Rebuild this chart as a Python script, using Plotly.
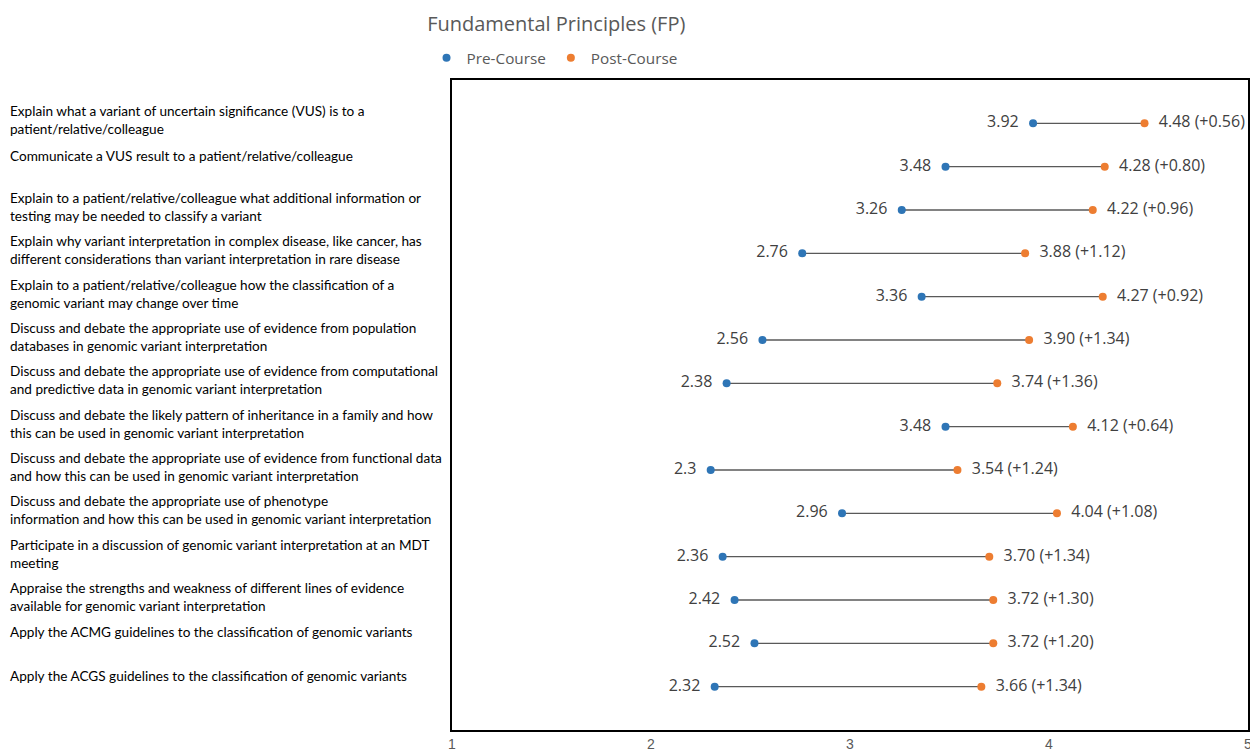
import plotly.graph_objects as go

categories = [
    "Explain what a variant of uncertain significance (VUS) is to a<br>patient/relative/colleague",
    "Communicate a VUS result to a patient/relative/colleague",
    "Explain to a patient/relative/colleague what additional information or<br>testing may be needed to classify a variant",
    "Explain why variant interpretation in complex disease, like cancer, has<br>different considerations than variant interpretation in rare disease",
    "Explain to a patient/relative/colleague how the classification of a<br>genomic variant may change over time",
    "Discuss and debate the appropriate use of evidence from population<br>databases in genomic variant interpretation",
    "Discuss and debate the appropriate use of evidence from computational<br>and predictive data in genomic variant interpretation",
    "Discuss and debate the likely pattern of inheritance in a family and how<br>this can be used in genomic variant interpretation",
    "Discuss and debate the appropriate use of evidence from functional data<br>and how this can be used in genomic variant interpretation",
    "Discuss and debate the appropriate use of phenotype<br>information and how this can be used in genomic variant interpretation",
    "Participate in a discussion of genomic variant interpretation at an MDT<br>meeting",
    "Appraise the strengths and weakness of different lines of evidence<br>available for genomic variant interpretation",
    "Apply the ACMG guidelines to the classification of genomic variants",
    "Apply the ACGS guidelines to the classification of genomic variants",
]
pre_course = [3.92, 3.48, 3.26, 2.76, 3.36, 2.56, 2.38, 3.48, 2.3, 2.96, 2.36, 2.42, 2.52, 2.32]
post_course = [4.48, 4.28, 4.22, 3.88, 4.27, 3.90, 3.74, 4.12, 3.54, 4.04, 3.70, 3.72, 3.72, 3.66]
change_labels = ["+0.56", "+0.80", "+0.96", "+1.12", "+0.92", "+1.34", "+1.36",
                 "+0.64", "+1.24", "+1.08", "+1.34", "+1.30", "+1.20", "+1.34"]
x_ticks = [1, 2, 3, 4, 5]

BLUE = "#2E75B6"
ORANGE = "#ED7D31"
GRAY = "#595959"
TXT = "#404040"

rows = list(range(1, len(categories) + 1))

fig = go.Figure()

# connector lines
lx, ly = [], []
for r, a, b in zip(rows, pre_course, post_course):
    lx += [a, b, None]
    ly += [r, r, None]
fig.add_trace(go.Scatter(x=lx, y=ly, mode="lines", line=dict(color=GRAY, width=1.3),
                         showlegend=False, hoverinfo="skip"))

fig.add_trace(go.Scatter(
    x=pre_course, y=rows, mode="markers+text", name="Pre-Course",
    marker=dict(color=BLUE, size=8),
    text=[f"{v:g}  " for v in pre_course], textposition="middle left",
    textfont=dict(family="Open Sans", size=16, color=TXT),
))
fig.add_trace(go.Scatter(
    x=post_course, y=rows, mode="markers+text", name="Post-Course",
    marker=dict(color=ORANGE, size=8),
    text=[f"  {v:.2f} ({c})" for v, c in zip(post_course, change_labels)],
    textposition="middle right",
    textfont=dict(family="Open Sans", size=16, color=TXT),
))

for r, lab in zip(rows, categories):
    shift = 3 if "<br>" in lab else 11
    fig.add_annotation(x=-0.5578, xref="paper", y=r, yref="y", text=lab,
                       showarrow=False, xanchor="left", yanchor="middle", align="left",
                       yshift=shift,
                       font=dict(family="Lato", size=13.6, color="#000000"))

fig.update_xaxes(range=[1, 5], tickvals=x_ticks, showgrid=False, zeroline=False,
                 showline=True, linecolor="#000000", linewidth=2, mirror=True,
                 automargin=False, ticklabeloverflow="allow",
                 ticks="", tickfont=dict(family="Liberation Sans Narrow, Liberation Sans", size=14, color=GRAY))
fig.update_yaxes(range=[15, 0], showticklabels=False, showgrid=False, zeroline=False,
                 automargin=False,
                 showline=True, linecolor="#000000", linewidth=2, mirror=True, ticks="")

fig.update_layout(
    width=1250, height=754,
    margin=dict(l=452, r=2, t=80, b=24, autoexpand=False),
    paper_bgcolor="white", plot_bgcolor="white",
    title=dict(text="Fundamental Principles (FP)", x=0.445, xanchor="center",
               y=1 - 24 / 754, yanchor="middle",
               font=dict(family="Open Sans", size=20, color=GRAY)),
    legend=dict(orientation="h", x=-0.0320, xanchor="left", y=1.034, yanchor="middle",
                font=dict(family="Open Sans", size=15.3, color=GRAY), itemwidth=30,
                bgcolor="rgba(0,0,0,0)"),
)

fig.write_html("out.html", config={"displayModeBar": False},
               post_script="document.body.style.margin='0';document.body.style.overflow='hidden';")
